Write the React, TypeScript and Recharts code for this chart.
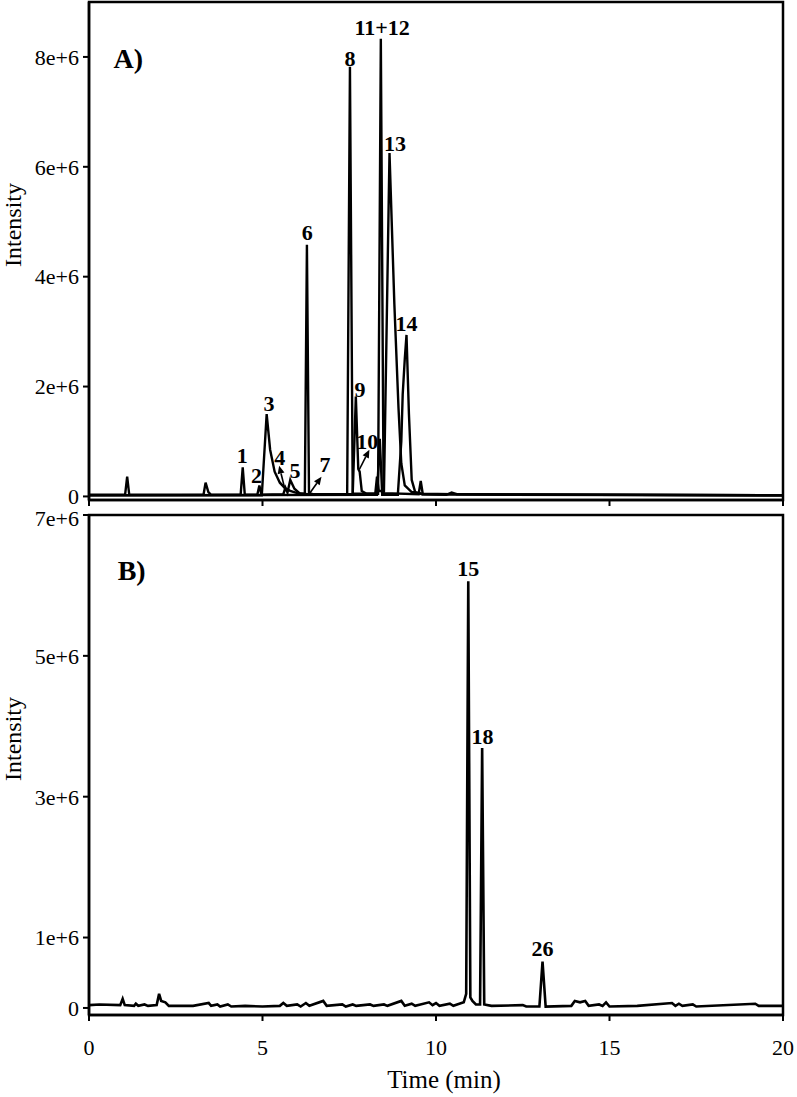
import React from 'react';
import { ComposedChart, Line, XAxis, YAxis, ReferenceArea, ReferenceDot, ReferenceLine } from 'recharts';

// ---- data (intensity in units of 1e6, time in min) ----
const timeTicks = [0, 5, 10, 15, 20];
const intensityTicksA = [0, 2, 4, 6, 8];
const intensityTicksB = [0, 1, 3, 5, 7];

// Panel A, trace with narrow peaks
const traceA1: [number, number][] = [
  [0, 0.03], [1.04, 0.03], [1.1, 0.36], [1.16, 0.03], [3.3, 0.03], [3.36, 0.25], [3.44, 0.08], [3.52, 0.03],
  [4.37, 0.03], [4.43, 0.53], [4.49, 0.03], [4.85, 0.03], [4.91, 0.2], [4.97, 0.03], [5.6, 0.04], [5.66, 0.16],
  [5.72, 0.07], [5.8, 0.3], [5.92, 0.14], [6.08, 0.05], [6.22, 0.05], [6.28, 4.58], [6.34, 0.06], [6.45, 0.04],
  [7.44, 0.03], [7.52, 7.82], [7.6, 0.05], [8.33, 0.05], [8.41, 8.33], [8.49, 0.06], [9.5, 0.04], [9.56, 0.28],
  [9.62, 0.04], [10.3, 0.03], [10.45, 0.07], [10.6, 0.04], [12, 0.03], [20, 0.02],
];
// Panel A, trace with broad / tailing peaks
const traceA2: [number, number][] = [
  [0, 0.02], [4.98, 0.02], [5.12, 1.5], [5.22, 0.85], [5.35, 0.45], [5.5, 0.25], [5.65, 0.15], [5.8, 0.1],
  [6.0, 0.06], [6.3, 0.04], [7.6, 0.04], [7.69, 1.82], [7.76, 0.5], [7.8, 0.45], [7.86, 0.1], [8.0, 0.05],
  [8.25, 0.05], [8.3, 0.36], [8.35, 0.1], [8.5, 0.1], [8.66, 6.25], [8.8, 3.5], [8.92, 1.6], [9.0, 0.6],
  [9.1, 0.2], [9.3, 0.08], [9.6, 0.05], [10.5, 0.04], [20, 0.02],
];
// Panel A, third trace (peak 14 and shoulder)
const traceA3: [number, number][] = [
  [0, 0.02], [8.3, 0.03], [8.38, 1.05], [8.45, 0.03], [8.9, 0.03], [9.0, 1.0], [9.04, 1.85], [9.1, 2.5],
  [9.15, 2.94], [9.22, 1.5], [9.3, 0.3], [9.4, 0.08], [9.6, 0.04], [20, 0.02],
];
// Panel B trace
const traceB: [number, number][] = [
  [0, 0.04], [0.3, 0.05], [0.9, 0.04], [0.97, 0.13], [1.03, 0.04], [1.3, 0.03], [1.35, 0.06], [1.42, 0.03],
  [1.6, 0.05], [1.7, 0.03], [1.95, 0.04], [2.02, 0.2], [2.08, 0.1], [2.2, 0.08], [2.3, 0.03], [3, 0.03],
  [3.45, 0.07], [3.52, 0.03], [3.7, 0.05], [3.78, 0.02], [4.0, 0.05], [4.1, 0.02], [4.5, 0.03], [5, 0.02],
  [5.5, 0.03], [5.6, 0.07], [5.7, 0.03], [6.0, 0.05], [6.1, 0.02], [6.25, 0.07], [6.35, 0.03], [6.75, 0.1],
  [6.85, 0.03], [7.3, 0.05], [7.4, 0.02], [7.6, 0.05], [7.7, 0.03], [8.1, 0.05], [8.2, 0.03], [8.5, 0.05],
  [8.6, 0.03], [9.0, 0.1], [9.1, 0.03], [9.3, 0.06], [9.4, 0.03], [9.8, 0.08], [9.9, 0.04], [10.0, 0.07],
  [10.1, 0.03], [10.4, 0.06], [10.5, 0.03], [10.8, 0.08], [10.87, 0.2], [10.93, 6.06], [10.99, 0.15],
  [11.05, 0.1], [11.15, 0.05], [11.27, 0.05], [11.33, 3.69], [11.39, 0.05], [11.6, 0.03], [12.5, 0.04],
  [12.6, 0.02], [12.98, 0.02], [13.07, 0.66], [13.16, 0.02], [13.9, 0.03], [14.0, 0.1], [14.15, 0.08],
  [14.3, 0.1], [14.4, 0.03], [14.7, 0.05], [14.8, 0.03], [14.9, 0.08], [15.0, 0.02], [15.8, 0.03],
  [16.8, 0.07], [16.9, 0.03], [17.0, 0.06], [17.1, 0.03], [17.4, 0.05], [17.5, 0.02], [19.2, 0.06],
  [19.3, 0.03], [20, 0.03],
];

// peak labels: [text, time, intensity]
const labelsA: [string, number, number][] = [
  ['1', 4.42, 0.74], ['2', 4.83, 0.38], ['3', 5.19, 1.7], ['4', 5.5, 0.7], ['5', 5.94, 0.48],
  ['6', 6.29, 4.8], ['7', 6.8, 0.58], ['8', 7.52, 7.97], ['9', 7.81, 1.95], ['10', 8.02, 1.0],
  ['11+12', 8.45, 8.54], ['13', 8.82, 6.42], ['14', 9.15, 3.14],
];
const labelsB: [string, number, number][] = [
  ['15', 10.93, 6.24], ['18', 11.34, 3.86], ['26', 13.07, 0.84],
];
// arrows from peak to label: [name, t1, y1, t2, y2]
const arrowsA: [string, number, number, number, number][] = [
  ['4', 5.65, 0.12, 5.48, 0.56],
  ['7', 6.35, 0.05, 6.7, 0.36],
  ['10', 7.79, 0.49, 8.08, 0.85],
];

const domainA: [number, number] = [-0.065, 9];
const domainB: [number, number] = [-0.1, 7];

const FONT = "'Liberation Serif', 'Times New Roman', Times, serif";
const toRows = (arr: [number, number][]) => arr.map(([t, v]) => ({ t, v }));

const fmt = (v: number) => (v === 0 ? '0' : `${v}e+6`);

const arrowShape = (p: any) => {
  const { x1, y1, x2, y2 } = p;
  const ang = Math.atan2(y2 - y1, x2 - x1);
  const L = 8, W = 3.5;
  const bx = x2 - L * Math.cos(ang), by = y2 - L * Math.sin(ang);
  const px = -Math.sin(ang) * W, py = Math.cos(ang) * W;
  return (
    <g>
      <line x1={x1} y1={y1} x2={bx} y2={by} stroke="#000" strokeWidth={1.6} />
      <polygon points={`${x2},${y2} ${bx + px},${by + py} ${bx - px},${by - py}`} fill="#000" />
    </g>
  );
};

const labelShape = (text: string, size: number) => (p: any) => (
  <text x={p.cx} y={p.cy} textAnchor="middle" dominantBaseline="central" style={{ fontFamily: FONT }}
    fontWeight="bold" fontSize={size} fill="#000">{text}</text>
);

const intensityLabel = (props: any) => {
  const vb = props.viewBox;
  const cy = vb.y + vb.height / 2 - 26;
  return (
    <text x={21} y={cy} transform={`rotate(-90, 21, ${cy})`} textAnchor="middle"
      style={{ fontFamily: FONT }} fontSize={24} fill="#000">Intensity</text>
  );
};

const timeLabel = (props: any) => {
  const vb = props.viewBox;
  return (
    <text x={444} y={vb.y + 73} textAnchor="middle" style={{ fontFamily: FONT }} fontSize={25} fill="#000">Time (min)</text>
  );
};

const axisLine = { stroke: '#000', strokeWidth: 2.5 };
const tickLine = { stroke: '#000', strokeWidth: 2 };
const tickStyle = { fontSize: 22, fill: '#000', fontFamily: FONT };

export default function App() {
  return (
    <div style={{ position: 'absolute', left: 0, top: 0, width: 797, height: 1097, background: '#fff' }}>
      <div style={{ position: 'absolute', left: 0, top: 0 }}>
        <ComposedChart width={797} height={512} margin={{ top: 2, right: 14, bottom: 2, left: 9 }}>
          <XAxis type="number" dataKey="t" domain={[0, 20]} ticks={timeTicks} allowDataOverflow height={10}
            tickFormatter={() => ''} tickSize={6} axisLine={axisLine} tickLine={tickLine} />
          <YAxis type="number" domain={domainA} ticks={intensityTicksA} allowDataOverflow width={80}
            tickFormatter={fmt} tickSize={6} tickMargin={4} axisLine={axisLine} tickLine={tickLine}
            tick={tickStyle} label={{ content: intensityLabel }} />
          <ReferenceArea x1={0} x2={20} y1={domainA[0]} y2={domainA[1]} fill="none" stroke="#000" strokeWidth={2.5} />
          <Line data={toRows(traceA2)} dataKey="v" type="linear" stroke="#000" strokeWidth={2.4} dot={false} isAnimationActive={false} />
          <Line data={toRows(traceA3)} dataKey="v" type="linear" stroke="#000" strokeWidth={2.4} dot={false} isAnimationActive={false} />
          <Line data={toRows(traceA1)} dataKey="v" type="linear" stroke="#000" strokeWidth={2.4} dot={false} isAnimationActive={false} />
          {arrowsA.map(([n, t1, y1, t2, y2]) => (
            <ReferenceLine key={'ar' + n} segment={[{ x: t1, y: y1 }, { x: t2, y: y2 }]} shape={arrowShape} />
          ))}
          {labelsA.map(([n, t, y]) => (
            <ReferenceDot key={'la' + n} x={t} y={y} r={0} shape={labelShape(n, 22)} />
          ))}
          <ReferenceDot x={1.13} y={7.97} r={0} shape={labelShape('A)', 28)} />
        </ComposedChart>
      </div>
      <div style={{ position: 'absolute', left: 0, top: 505 }}>
        <ComposedChart width={797} height={592} margin={{ top: 10, right: 14, bottom: 22, left: 9 }}>
          <XAxis type="number" dataKey="t" domain={[0, 20]} ticks={timeTicks} allowDataOverflow height={60}
            tickSize={6} tickMargin={18} axisLine={axisLine} tickLine={tickLine} tick={tickStyle}
            label={{ content: timeLabel }} />
          <YAxis type="number" domain={domainB} ticks={intensityTicksB} allowDataOverflow width={80}
            tickFormatter={fmt} tickSize={6} tickMargin={4} axisLine={axisLine} tickLine={tickLine}
            tick={tickStyle} label={{ content: intensityLabel }} />
          <ReferenceArea x1={0} x2={20} y1={domainB[0]} y2={domainB[1]} fill="none" stroke="#000" strokeWidth={2.5} />
          <Line data={toRows(traceB)} dataKey="v" type="linear" stroke="#000" strokeWidth={2.6} dot={false} isAnimationActive={false} />
          {labelsB.map(([n, t, y]) => (
            <ReferenceDot key={'lb' + n} x={t} y={y} r={0} shape={labelShape(n, 22)} />
          ))}
          <ReferenceDot x={1.23} y={6.21} r={0} shape={labelShape('B)', 28)} />
        </ComposedChart>
      </div>
    </div>
  );
}
